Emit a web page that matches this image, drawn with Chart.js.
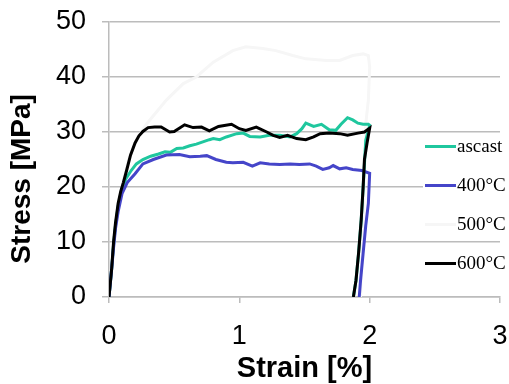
<!DOCTYPE html>
<html>
<head>
<meta charset="utf-8">
<script src="https://cdn.jsdelivr.net/npm/chart.js@4.4.1/dist/chart.umd.min.js"></script>
<style>
    html, body { margin: 0; padding: 0; background: #fff; }
    #wrap { position: relative; width: 509px; height: 384px; }
    #legend { position: absolute; left: 0; top: 0; }
    .legendItem { position: absolute; left: 423px; width: 86px; height: 20px; background: #fff; }
    .legendLine { position: absolute; left: 2px; top: 9px; width: 31px; height: 3px; }
    .legendText { position: absolute; left: 34px; top: -1px; font-family: 'Liberation Serif', serif; font-size: 19px; line-height: 22px; color: #000; white-space: nowrap; }
</style>
</head>
<body>
<div id="wrap">
    <canvas id="stressChart" width="509" height="384"></canvas>
    <div id="legend"></div>
</div>
<script>
// series names and colours
const seriesNames = ['ascast', '400\u00B0C', '500\u00B0C', '600\u00B0C'];
const seriesColors = ['#1fc79e', '#4545c9', '#f6f6f6', '#000000'];

// values: strain [%] and stress [MPa]
const ascastStrain = [0, 0.02, 0.035, 0.05, 0.07, 0.10, 0.13, 0.17, 0.21, 0.26, 0.32, 0.38, 0.43, 0.47, 0.52, 0.57, 0.62, 0.67, 0.72, 0.77, 0.80, 0.85, 0.90, 0.98, 1.03, 1.08, 1.16, 1.23, 1.31, 1.39, 1.44, 1.48, 1.51, 1.57, 1.63, 1.69, 1.74, 1.78, 1.83, 1.87, 1.91, 1.95, 1.99, 2.00, 1.97, 1.95, 1.935, 1.915, 1.895, 1.875];
const ascastStress = [0, 5, 9.5, 13, 16.5, 19.8, 21.5, 23, 24.2, 25, 25.6, 26, 26.4, 26.3, 27, 27.1, 27.5, 27.8, 28.2, 28.6, 28.8, 28.6, 29.1, 29.7, 29.8, 29.2, 29.1, 29.4, 29.4, 29.1, 29.7, 30.6, 31.6, 31.0, 31.4, 30.4, 30.3, 31.4, 32.6, 32.2, 31.6, 31.4, 31.4, 31.2, 28.5, 20, 14, 8, 3, 0];

const c400Strain = [0, 0.02, 0.035, 0.05, 0.07, 0.10, 0.14, 0.20, 0.26, 0.34, 0.44, 0.54, 0.62, 0.70, 0.75, 0.82, 0.90, 0.95, 1.03, 1.10, 1.16, 1.23, 1.31, 1.39, 1.46, 1.54, 1.59, 1.64, 1.69, 1.72, 1.77, 1.82, 1.87, 1.94, 2.00, 1.99, 1.97, 1.95, 1.93, 1.92];
const c400Stress = [0, 5, 9, 12.5, 15.5, 18.8, 20.8, 22.4, 24.2, 25, 25.8, 25.9, 25.5, 25.6, 25.7, 25, 24.5, 24.4, 24.5, 23.8, 24.4, 24.2, 24.1, 24.2, 24.1, 24.2, 23.8, 23.2, 23.5, 23.9, 23.3, 23.5, 23.2, 23.0, 22.5, 17, 13, 8, 3, 0];

const c500Strain = [0, 0.03, 0.06, 0.10, 0.15, 0.22, 0.29, 0.44, 0.57, 0.67, 0.80, 0.95, 1.05, 1.18, 1.28, 1.41, 1.51, 1.67, 1.77, 1.87, 1.95, 1.99, 2.00, 1.99, 1.97, 1.95, 1.93];
const c500Stress = [0, 8, 14, 20, 25, 29, 31.5, 35.8, 38.8, 40, 42.7, 44.8, 45.5, 45.2, 44.8, 43.9, 43.3, 43, 43, 43.9, 44.2, 43.9, 41.8, 35.8, 31.5, 15, 0];

const c600Strain = [0, 0.02, 0.035, 0.05, 0.07, 0.09, 0.11, 0.135, 0.165, 0.20, 0.23, 0.26, 0.30, 0.35, 0.40, 0.465, 0.50, 0.58, 0.645, 0.71, 0.77, 0.84, 0.94, 1.00, 1.05, 1.13, 1.21, 1.26, 1.31, 1.37, 1.44, 1.51, 1.57, 1.62, 1.69, 1.77, 1.83, 1.91, 1.96, 2.00, 1.98, 1.96, 1.95, 1.935, 1.915, 1.895, 1.875];
const c600Stress = [0, 5, 10, 13.5, 17, 19.2, 20.8, 23, 25.8, 28, 29.3, 30.1, 30.8, 30.9, 30.9, 30.0, 30.1, 31.3, 30.8, 30.9, 30.2, 31.0, 31.4, 30.6, 30.3, 30.9, 30.0, 29.4, 29.0, 29.4, 28.8, 28.6, 29.1, 29.7, 29.8, 29.7, 29.4, 29.8, 30.0, 30.7, 28, 25, 20, 14, 8, 3, 0];

// axis ticks
const strainTicks = [0, 1, 2, 3];
const stressTicks = [0, 10, 20, 30, 40, 50];

const GRID_COLOR = '#bcbcbc';
const TICK_FONT = { family: 'Liberation Sans', size: 27 };

const toPoints = function (xs, ys) {
    return xs.map(function (x, i) {
        return { x: x, y: ys[i] };
    });
}

const doDataset = function (index, xs, ys, order) {
    return {
        label: seriesNames[index],
        data: toPoints(xs, ys),
        showLine: true,
        borderColor: seriesColors[index],
        backgroundColor: seriesColors[index],
        borderWidth: 3,
        pointRadius: 0,
        tension: 0,
        order: order
    }
}

const datasets = [
    doDataset(0, ascastStrain, ascastStress, 2),
    doDataset(1, c400Strain, c400Stress, 1),
    doDataset(2, c500Strain, c500Stress, 3),
    doDataset(3, c600Strain, c600Stress, 0)
];

const stressChart = new Chart(document.getElementById('stressChart'), {
    type: 'scatter',
    data: { datasets: datasets },
    options: {
        responsive: false,
        animation: false,
        devicePixelRatio: 1,
        layout: { padding: { top: 22, right: 9, left: 0, bottom: 0 } },
        plugins: {
            legend: { display: false },
            tooltip: { enabled: false }
        },
        scales: {
            x: {
                type: 'linear',
                min: 0,
                max: 3,
                afterBuildTicks: function (scale) {
                    scale.ticks = strainTicks.map(function (v) { return { value: v }; });
                },
                afterFit: function (scale) {
                    scale.height = 87;
                    // tick padding would otherwise widen the side margins
                    scale.paddingLeft = 0;
                    scale.paddingRight = 0;
                },
                ticks: { font: TICK_FONT, color: '#000', padding: 17, maxRotation: 0 },
                grid: { drawOnChartArea: false, drawTicks: true, tickLength: 6, color: GRID_COLOR, lineWidth: 1.5 },
                border: { color: GRID_COLOR, width: 1.5 },
                title: {
                    display: true, text: 'Strain [%]', color: '#000',
                    font: { family: 'Liberation Sans', size: 29, weight: 'bold', lineHeight: 1 },
                    padding: { top: 0, bottom: 1 }
                }
            },
            y: {
                type: 'linear',
                min: 0,
                max: 50,
                afterBuildTicks: function (scale) {
                    scale.ticks = stressTicks.map(function (v) { return { value: v }; });
                },
                afterFit: function (scale) {
                    scale.width = 109;
                    scale.paddingTop = 0;
                    scale.paddingBottom = 0;
                },
                ticks: { font: TICK_FONT, color: '#000', padding: 16 },
                grid: { color: GRID_COLOR, lineWidth: 1.5, tickLength: 7 },
                border: { color: GRID_COLOR, width: 1.5 },
                title: {
                    // trailing spaces push the label a little below the axis middle, as in the original
                    display: true, text: 'Stress [MPa]     ', color: '#000',
                    font: { family: 'Liberation Sans', size: 28, weight: 'bold', lineHeight: 1 },
                    padding: { top: 8, bottom: 0 }
                }
            }
        }
    }
});

// legend drawn beside the curves, over the right part of the plot
const legendRows = [146, 185, 224, 263];
const legendBox = document.getElementById('legend');
seriesNames.forEach(function (name, i) {
    const item = document.createElement('div');
    item.className = 'legendItem';
    item.style.top = (legendRows[i] - 10) + 'px';
    const line = document.createElement('div');
    line.className = 'legendLine';
    line.style.background = seriesColors[i];
    const text = document.createElement('div');
    text.className = 'legendText';
    text.textContent = name;
    item.appendChild(line);
    item.appendChild(text);
    legendBox.appendChild(item);
});
</script>
</body>
</html>
